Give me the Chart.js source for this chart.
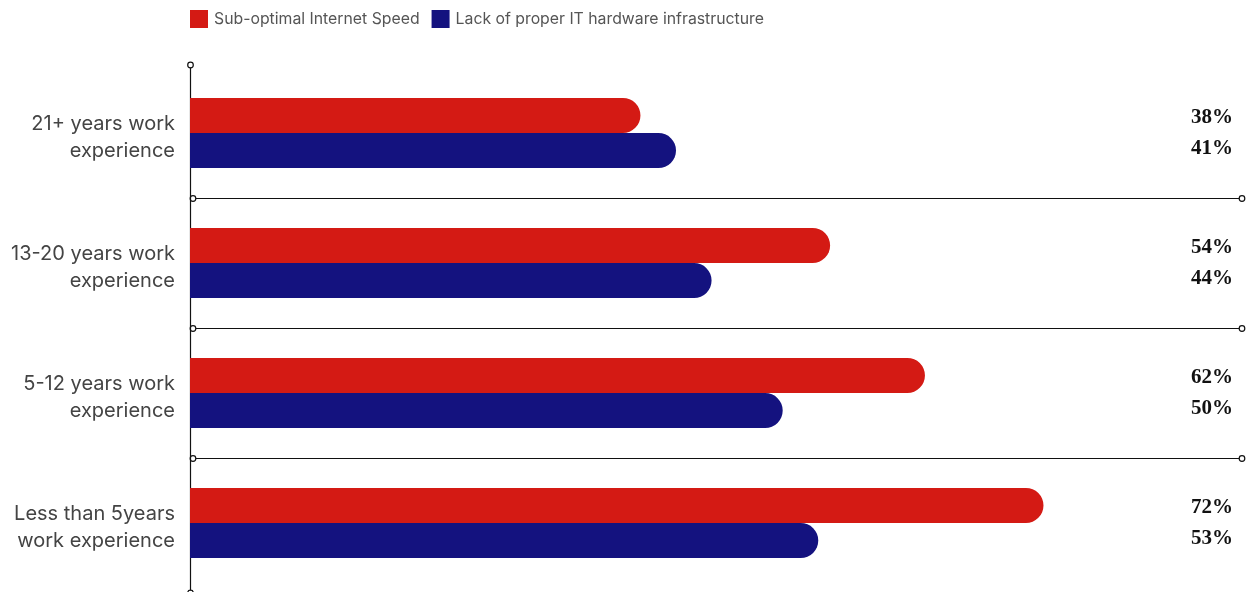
<!DOCTYPE html>
<html lang="en">
<head>
<meta charset="UTF-8">
<title>IT challenges by work experience</title>
<script src="https://cdn.jsdelivr.net/npm/chart.js"></script>
<style>
  html, body { margin: 0; padding: 0; background: #fff; }
  #wrap { width: 1257px; height: 592px; }
</style>
</head>
<body>
<div id="wrap"><canvas id="myChart" width="1257" height="592"></canvas></div>
<script>
const categories = [
    ['21+ years work', 'experience'],
    ['13-20 years work', 'experience'],
    ['5-12 years work', 'experience'],
    ['Less than 5years', 'work experience']
];
const internetSpeed = [38, 54, 62, 72];
const itHardware = [41, 44, 50, 53];

const RED = '#D41A14';
const NAVY = '#14127F';

// small open circle used at the ends of the rule lines
function dot(ctx, x, y) {
    ctx.beginPath();
    ctx.arc(x, y, 2.8, 0, Math.PI * 2);
    ctx.fillStyle = '#fff';
    ctx.fill();
    ctx.stroke();
}

const rules = {
    id: 'rules',
    beforeDatasetsDraw(chart) {
        const { ctx, chartArea, scales } = chart;
        const y = scales.y;
        ctx.save();
        ctx.strokeStyle = '#111';
        ctx.lineWidth = 1.2;
        // separators between the groups
        for (let i = 1; i < categories.length; i++) {
            const yy = Math.round((y.getPixelForValue(i - 1) + y.getPixelForValue(i)) / 2) + 0.5;
            ctx.beginPath();
            ctx.moveTo(chartArea.left, yy);
            ctx.lineTo(chartArea.right, yy);
            ctx.stroke();
            dot(ctx, chartArea.left + 3, yy);
            dot(ctx, chartArea.right - 3, yy);
        }
        // vertical axis
        const x0 = chartArea.left + 0.5;
        ctx.beginPath();
        ctx.moveTo(x0, chartArea.top - 3);
        ctx.lineTo(x0, chart.height);
        ctx.stroke();
        dot(ctx, x0, chartArea.top - 3);
        dot(ctx, x0, chart.height + 1);
        ctx.restore();
    },
    afterDatasetsDraw(chart) {
        const { ctx } = chart;
        ctx.save();
        ctx.font = 'bold 21px "Liberation Serif", serif';
        ctx.fillStyle = '#111';
        ctx.textAlign = 'center';
        ctx.textBaseline = 'middle';
        chart.data.datasets.forEach((ds, di) => {
            chart.getDatasetMeta(di).data.forEach((bar, i) => {
                ctx.fillText(ds.data[i] + '%', 1212, bar.y + (di === 0 ? 2 : -2));
            });
        });
        // legend
        ctx.font = '15.8px Inter, sans-serif';
        ctx.textAlign = 'left';
        let lx = 190;
        chart.data.datasets.forEach(ds => {
            ctx.fillStyle = ds.backgroundColor;
            ctx.fillRect(lx, 10, 18, 18);
            ctx.fillStyle = '#555';
            ctx.fillText(ds.label, lx + 24, 19);
            lx += 24 + ctx.measureText(ds.label).width + 12;
        });
        ctx.restore();
    }
};

const ctx = document.getElementById('myChart').getContext('2d');
new Chart(ctx, {
    type: 'bar',
    data: {
        labels: categories,
        datasets: [
            {
                label: 'Sub-optimal Internet Speed',
                data: internetSpeed,
                backgroundColor: RED
            },
            {
                label: 'Lack of proper IT hardware infrastructure',
                data: itHardware,
                backgroundColor: NAVY
            }
        ]
    },
    options: {
        indexAxis: 'y',
        responsive: false,
        animation: false,
        layout: { padding: { top: 68, bottom: 4, right: 12, left: 0 } },
        datasets: {
            bar: {
                barPercentage: 1,
                categoryPercentage: 0.54,
                borderSkipped: false,
                borderRadius: { topLeft: 0, bottomLeft: 0, topRight: 18, bottomRight: 18 }
            }
        },
        plugins: {
            legend: { display: false },
            tooltip: { enabled: false }
        },
        scales: {
            x: {
                display: false,
                min: 0,
                max: 89
            },
            y: {
                grid: { display: false, drawTicks: false },
                border: { display: false },
                ticks: {
                    color: '#444',
                    padding: 15,
                    labelOffset: 4,
                    font: { family: 'Inter, sans-serif', size: 20, lineHeight: 1.35 }
                },
                afterFit(scale) {
                    scale.width = 190;
                    scale.paddingTop = 0;
                    scale.paddingBottom = 0;
                }
            }
        }
    },
    plugins: [rules]
});
</script>
</body>
</html>
